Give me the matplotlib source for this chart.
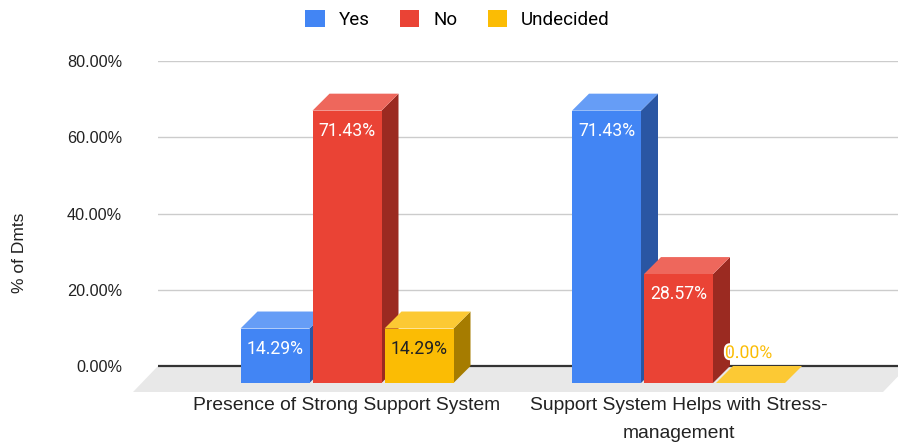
import numpy as np
import matplotlib
matplotlib.use('Agg')
import matplotlib.pyplot as plt
from matplotlib.patches import Polygon, Patch
import matplotlib.patheffects as pe

categories = ['Presence of Strong Support System',
              'Support System Helps with Stress-\nmanagement']
series = ['Yes', 'No', 'Undecided']
yes_vals = [14.29, 71.43]
no_vals = [71.43, 28.57]
undecided_vals = [14.29, 0.00]
yticks = [0, 20, 40, 60, 80]

front_colors = ['#4285F4', '#EA4335', '#FBBC04']
top_colors = ['#669DF6', '#EE675C', '#FCC934']
side_colors = ['#2A56A3', '#9B2A21', '#A67C00']
label_colors = ['white', 'white', '#202124']

W, H = 898, 447
fig = plt.figure(figsize=(W / 100, H / 100), dpi=100)

# plot box in pixels
left_px, right_px, top_px, bottom_px = 158, 898, 61, 392
zero_px = 366
px_per_pct = (zero_px - top_px) / 80
px_per_cat = 331.5
cat0_px = 347

ax = fig.add_axes([left_px / W, 1 - bottom_px / H,
                   (right_px - left_px) / W, (bottom_px - top_px) / H])
ax.set_xlim((left_px - cat0_px) / px_per_cat, (right_px - cat0_px) / px_per_cat)
ax.set_ylim((zero_px - bottom_px) / px_per_pct, 80)

# 3d depth of bars and floor
dx = 17 / px_per_cat
dy = 17 / px_per_pct
fdx = 25 / px_per_cat
fdy = 26 / px_per_pct
bar_w = 69 / px_per_cat
step = 72 / px_per_cat

# floor
xl = ax.get_xlim()[0]
xr = (908 - cat0_px) / px_per_cat
floor = Polygon([(xl, 0), (xr, 0), (xr - fdx, -fdy), (xl - fdx, -fdy)],
                closed=True, facecolor='#E8E8E8', edgecolor='none',
                zorder=1, clip_on=False)
ax.add_patch(floor)
ax.axhline(0, color='#333333', lw=1.6, zorder=2)

z = 3
data = [yes_vals, no_vals, undecided_vals]
for ci in range(len(categories)):
    for si in range(len(series)):
        v = data[si][ci]
        c = ci + (si - 1) * step
        x0, x1 = c - bar_w / 2, c + bar_w / 2
        yb, yt = -dy, v - dy
        side = Polygon([(x1, yb), (x1 + dx, 0), (x1 + dx, v), (x1, yt)],
                       facecolor=side_colors[si], edgecolor='none', zorder=z, clip_on=False)
        top = Polygon([(x0, yt), (x1, yt), (x1 + dx, v), (x0 + dx, v)],
                      facecolor=top_colors[si], edgecolor='none', zorder=z, clip_on=False)
        front = Polygon([(x0, yb), (x1, yb), (x1, yt), (x0, yt)],
                        facecolor=front_colors[si], edgecolor='none', zorder=z, clip_on=False)
        for p in (side, top, front):
            ax.add_patch(p)
        z += 1
        txt = f'{v:.2f}%'
        if v > 8:
            ax.text(c, yt - 20 / px_per_pct, txt, ha='center', va='center',
                    color=label_colors[si], fontsize=12.7, family='Roboto', zorder=z)
        else:
            t = ax.text(c - 2 / px_per_cat, 13 / px_per_pct, txt, ha='center', va='center',
                        color=front_colors[si], fontsize=12.7, family='Roboto', zorder=z)
            t.set_path_effects([pe.withStroke(linewidth=3, foreground='white')])
        z += 1

ax.set_yticks(yticks, labels=[f'{t:.2f}%' for t in yticks])
ax.tick_params(axis='y', length=0, pad=26, labelsize=11.7, labelcolor='#222222')
for lab in ax.get_yticklabels():
    lab.set_family('Liberation Sans')
ax.set_xticks([])

# category names under each group
for ci, name in enumerate(categories):
    ax.text(ci, -5 / (bottom_px - top_px), name, transform=ax.get_xaxis_transform(),
            ha='center', va='top', fontsize=13.9, family='Liberation Sans',
            color='#222222', linespacing=1.85)

ax.grid(axis='y', color='#CCCCCC', lw=1)
ax.set_axisbelow(True)
for s in ax.spines.values():
    s.set_visible(False)

fig.text(20 / W, 1 - 253 / H, '% of Dmts', rotation=90, ha='center', va='center',
         fontsize=12.5, family='Liberation Sans', color='#222222')

handles = [Patch(facecolor=col, edgecolor='none') for col in front_colors]
fig.legend(handles, series, loc='center', bbox_to_anchor=(457.5 / W, 1 - 19.5 / H),
           ncol=3, frameon=False, handlelength=1.05, handleheight=1.05,
           handletextpad=0.75, columnspacing=1.6,
           prop={'family': 'Roboto', 'size': 13.5})

fig.savefig('out.png', dpi=100)
